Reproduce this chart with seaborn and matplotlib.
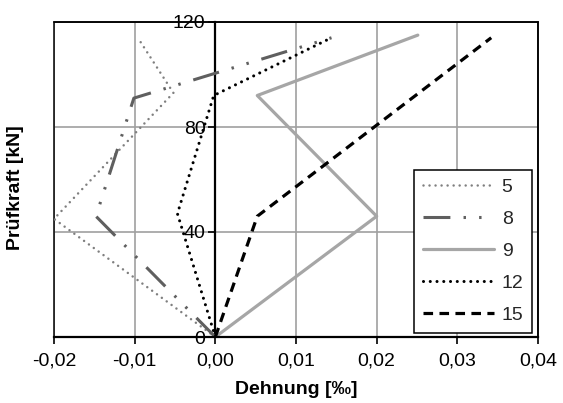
import numpy as np
import pandas as pd
import seaborn as sns
import matplotlib.pyplot as plt
from matplotlib.patches import Rectangle
from matplotlib.ticker import FixedLocator, FuncFormatter

# measured strain [permille] per load step [kN] for each gauge
load_5 = [0, 45, 93, 113]
strain_5 = [0.0, -0.0200, -0.0052, -0.0094]

load_8 = [0, 46, 91, 114]
strain_8 = [0.0, -0.0148, -0.0101, 0.0144]

load_9 = [0, 46, 92, 115]
strain_9 = [0.0, 0.0200, 0.0052, 0.0251]

load_12 = [0, 47, 92, 114]
strain_12 = [0.0, -0.0047, -0.0002, 0.0144]

load_15 = [0, 46, 114]
strain_15 = [0.0, 0.0052, 0.0342]

series_names = ["5", "8", "9", "12", "15"]
xticks = [-0.02, -0.01, 0.00, 0.01, 0.02, 0.03, 0.04]
yticks = [0, 40, 80, 120]

sns.set_theme(style="white")
plt.rcParams["font.family"] = ["Liberation Sans", "DejaVu Sans"]
plt.rcParams["font.size"] = 14

rows = []
for name, xs, ys in zip(series_names,
                        [strain_5, strain_8, strain_9, strain_12, strain_15],
                        [load_5, load_8, load_9, load_12, load_15]):
    for x, y in zip(xs, ys):
        rows.append({"Messstelle": name, "Dehnung": x, "Kraft": y})
df = pd.DataFrame(rows)

styles = {
    "5": dict(color="#7f7f7f", lw=1.8, ls=(0, (0.01, 2.4)), dash_capstyle="round"),
    "8": dict(color="#5f5f5f", lw=2.2, ls=(0, (8.8, 4.3, 0.8, 4.3, 0.8, 4.3)), dash_capstyle="butt"),
    "9": dict(color="#a6a6a6", lw=2.3, ls="-"),
    "12": dict(color="black", lw=2.2, ls=(0, (0.01, 2.2)), dash_capstyle="round"),
    "15": dict(color="black", lw=2.3, ls=(0, (3, 2)), dash_capstyle="butt"),
}

fig = plt.figure(figsize=(5.63, 4.03), dpi=100)
ax = fig.add_axes([54 / 563, 66 / 403, 484 / 563, 315 / 403])

for name in series_names:
    sub = df[df["Messstelle"] == name]
    sns.lineplot(data=sub, x="Dehnung", y="Kraft", orient="y", estimator=None,
                 ax=ax, label=name, **styles[name])

ax.set_xlim(-0.02, 0.04)
ax.set_ylim(0, 120)
ax.xaxis.set_major_locator(FixedLocator(xticks))
ax.yaxis.set_major_locator(FixedLocator(yticks))
ax.xaxis.set_major_formatter(FuncFormatter(lambda v, p: f"{v:.2f}".replace(".", ",").replace("-0,00", "0,00")))
ax.yaxis.set_major_formatter(FuncFormatter(lambda v, p: f"{v:.0f}"))

ax.grid(True, color="#a0a0a0", lw=1.2)
ax.set_axisbelow(True)

for s in ["top", "right"]:
    ax.spines[s].set_color("black")
    ax.spines[s].set_linewidth(1.1)
ax.spines["bottom"].set_color("black")
ax.spines["bottom"].set_linewidth(1.6)
ax.spines["left"].set_position(("data", 0))
ax.spines["left"].set_color("black")
ax.spines["left"].set_linewidth(1.6)
ax.spines["left"].set_zorder(1.5)
ax.add_patch(Rectangle((0, 0), 1, 1, transform=ax.transAxes, fill=False,
                       edgecolor="black", lw=1.1, clip_on=False, zorder=1.5))

ax.tick_params(axis="both", which="major", direction="out", length=5, width=1.2,
               color="black", labelsize=14, labelcolor="black", pad=3)
ax.tick_params(axis="x", bottom=True, pad=6)
ax.tick_params(axis="y", left=True, pad=2)

ax.set_xlabel("Dehnung [‰]", fontsize=14, fontweight="bold", color="black")
ax.set_ylabel("Prüfkraft [kN]", fontsize=14, fontweight="bold", color="black")
ax.yaxis.set_label_coords(-0.062, 0.473)
ax.xaxis.set_label_coords(0.5, -0.14)

leg = ax.legend(loc="lower right", bbox_to_anchor=(0.988, 0.013), borderaxespad=0,
                fontsize=14, handlelength=3.65, labelspacing=0.74, handletextpad=0.4,
                borderpad=0.45, fancybox=False, framealpha=1, edgecolor="black")
leg.get_frame().set_linewidth(1.1)

fig.savefig("out.png", dpi=100)
